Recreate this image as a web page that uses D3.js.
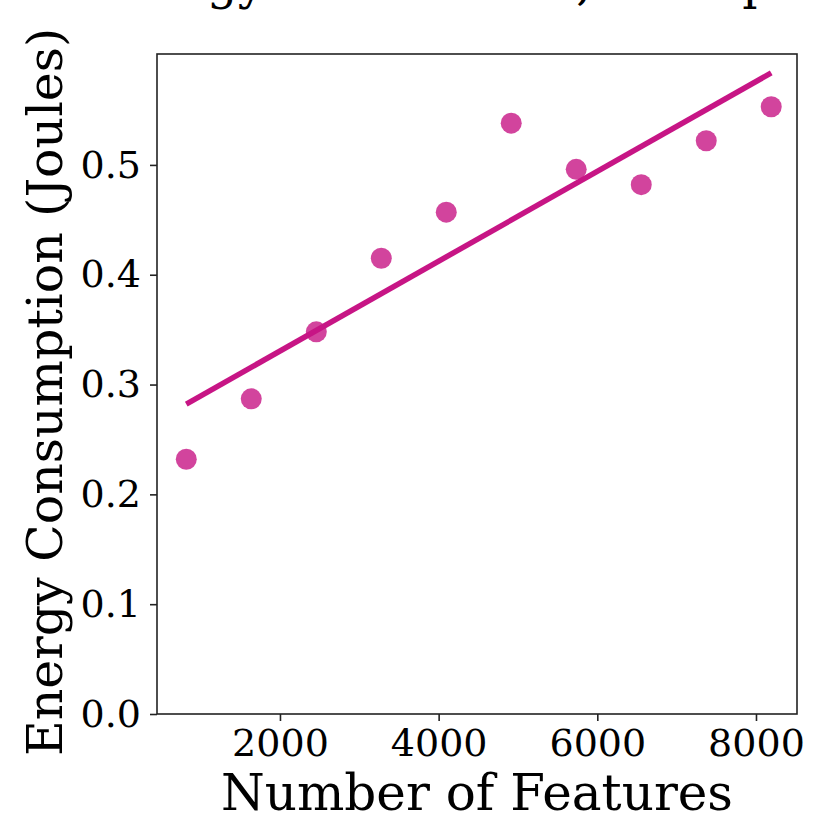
<!DOCTYPE html>
<html>
<head>
<meta charset="utf-8">
<script src="https://cdn.jsdelivr.net/npm/d3@7"></script>
<style>
  body { margin: 0; background: #fff; }
  svg { display: block; }
  svg text { font-family: 'DejaVu Serif', serif; fill: #000; }
</style>
</head>
<body>
<svg id="chart" width="820" height="823"></svg>
<script>
// data
const features = [819, 1638, 2458, 3277, 4096, 4915, 5734, 6554, 7373, 8192];
const energy = [0.232, 0.287, 0.348, 0.415, 0.457, 0.538, 0.496, 0.482, 0.522, 0.553];
const xTicks = [2000, 4000, 6000, 8000];
const yTicks = [0.0, 0.1, 0.2, 0.3, 0.4, 0.5];

const w = 820;
const h = 823;
const margin = { top: 54, right: 23, bottom: 109, left: 157 };

const svg = d3.select('#chart');

const xScale = d3.scaleLinear()
  .domain([450, 8517])
  .range([margin.left, w - margin.right]);
const yScale = d3.scaleLinear()
  .domain([0, 0.601])
  .range([h - margin.bottom, margin.top]);

// least squares fit for the trend line
const mx = d3.mean(features);
const my = d3.mean(energy);
const slope = d3.sum(features, (d, i) => (d - mx) * (energy[i] - my)) /
  d3.sum(features, (d) => (d - mx) * (d - mx));
const intercept = my - slope * mx;
const fitPts = d3.extent(features).map((x) => [x, intercept + slope * x]);

// title (mostly cut off at the top in the original)
svg.append('text')
  .attr('x', (margin.left + w - margin.right) / 2 + 10)
  .attr('y', -1)
  .attr('text-anchor', 'middle')
  .style('font-size', '48px')
  .text('Energy vs. Features, 100 epochs');

// points
svg.append('g')
  .selectAll('circle')
  .data(features)
  .enter()
  .append('circle')
  .attr('cx', (d) => xScale(d))
  .attr('cy', (d, i) => yScale(energy[i]))
  .attr('r', 10.5)
  .style('fill', '#c71585')
  .style('fill-opacity', 0.8);

// trend line
svg.append('path')
  .datum(fitPts)
  .attr('d', d3.line().x((d) => xScale(d[0])).y((d) => yScale(d[1])))
  .style('fill', 'none')
  .style('stroke', '#c71585')
  .style('stroke-width', 5.5);

// frame
svg.append('rect')
  .attr('x', margin.left)
  .attr('y', margin.top)
  .attr('width', w - margin.left - margin.right)
  .attr('height', h - margin.top - margin.bottom)
  .style('fill', 'none')
  .style('stroke', '#222')
  .style('stroke-width', 1.6);

// axes
const xAxis = d3.axisBottom(xScale)
  .tickValues(xTicks)
  .tickFormat(d3.format('d'))
  .tickSize(7)
  .tickPadding(8);
const yAxis = d3.axisLeft(yScale)
  .tickValues(yTicks)
  .tickFormat(d3.format('.1f'))
  .tickSize(7)
  .tickPadding(9);

const gx = svg.append('g')
  .attr('transform', `translate(0, ${h - margin.bottom})`)
  .call(xAxis);
const gy = svg.append('g')
  .attr('transform', `translate(${margin.left}, 0)`)
  .call(yAxis);

[gx, gy].forEach((g) => {
  g.select('.domain').remove();
  g.selectAll('.tick line').style('stroke', '#222').style('stroke-width', 1.6);
  g.selectAll('.tick text')
    .style('font-family', "'DejaVu Serif', serif")
    .style('font-size', '38px')
    .style('fill', '#000');
});

// axis labels
svg.append('text')
  .attr('x', (margin.left + w - margin.right) / 2)
  .attr('y', 810)
  .attr('text-anchor', 'middle')
  .style('font-size', '50px')
  .text('Number of Features');

svg.append('text')
  .attr('transform', `translate(62, ${(margin.top + h - margin.bottom) / 2 + 8}) rotate(-90)`)
  .attr('text-anchor', 'middle')
  .style('font-size', '49px')
  .text('Energy Consumption (Joules)');
</script>
</body>
</html>
